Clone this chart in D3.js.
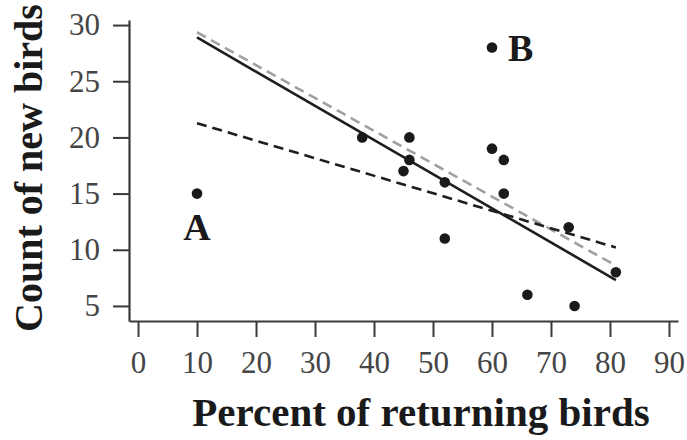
<!DOCTYPE html>
<html>
<head>
<meta charset="utf-8">
<script src="https://cdn.jsdelivr.net/npm/d3@7"></script>
<style>
  html, body { margin: 0; padding: 0; background: #fff; }
  svg { display: block; }
  text { font-family: "Liberation Serif", "Times New Roman", serif; }
</style>
</head>
<body>
<svg id="chart" width="687" height="440"></svg>
<script>
// Observations: percent of returning birds vs. count of new birds
const percentReturning = [38, 46, 46, 45, 52, 52, 60, 62, 62, 73, 66, 74, 81];
const newBirds         = [20, 20, 18, 17, 16, 11, 19, 18, 15, 12,  6,  5,  8];

// Two labelled outliers
const outlierNames   = ["A", "B"];
const outlierPercent = [10, 60];
const outlierCount   = [15, 28];

// Tick labels
const xTicks = [0, 10, 20, 30, 40, 50, 60, 70, 80, 90];
const yTicks = [5, 10, 15, 20, 25, 30];

const svg = d3.select("#chart");

const x = d3.scaleLinear().domain([-1.53, 91.53]).range([129, 678]);
const y = d3.scaleLinear().domain([3.66, 30.45]).range([321, 20]);

const axisColor = "#3a3a3a";
const labelColor = "#454545";

// Least-squares fit over a set of points
function fitLine(xs, ys) {
  const n = xs.length;
  const mx = d3.mean(xs), my = d3.mean(ys);
  let sxy = 0, sxx = 0;
  for (let i = 0; i < n; i++) {
    sxy += (xs[i] - mx) * (ys[i] - my);
    sxx += (xs[i] - mx) * (xs[i] - mx);
  }
  const b = sxy / sxx, a = my - b * mx;
  return v => a + b * v;
}

const allX = percentReturning.concat(outlierPercent);
const fitCore = fitLine(percentReturning, newBirds);
const fitWithA = fitLine(percentReturning.concat([outlierPercent[0]]), newBirds.concat([outlierCount[0]]));
const fitWithB = fitLine(percentReturning.concat([outlierPercent[1]]), newBirds.concat([outlierCount[1]]));
// each fit is drawn across the full range of observed x values
const span = d3.extent(allX);
const segment = f => span.map(v => [v, f(v)]);

const line = d3.line().x(d => x(d[0])).y(d => y(d[1]));

// Axes
const xAxis = d3.axisBottom(x).tickValues(xTicks).tickSize(16).tickSizeOuter(0).tickPadding(14);
const gx = svg.append("g").attr("transform", "translate(0,321)").call(xAxis);
const yAxis = d3.axisLeft(y).tickValues(yTicks).tickSize(16).tickSizeOuter(0).tickPadding(13);
const gy = svg.append("g").attr("transform", "translate(129,0)").call(yAxis);

[gx, gy].forEach(g => {
  g.select(".domain").attr("stroke", axisColor).attr("stroke-width", 2.2);
  g.selectAll(".tick line").attr("stroke", axisColor).attr("stroke-width", 2);
  g.selectAll(".tick text")
    .attr("fill", labelColor)
    .style("font-family", "'Liberation Serif', 'Times New Roman', serif")
    .style("font-size", "31px");
});

// Fit lines
svg.append("path").datum(segment(fitCore)).attr("d", line)
  .attr("fill", "none").attr("stroke", "#1e1e1e").attr("stroke-width", 2.6);
svg.append("path").datum(segment(fitWithB)).attr("d", line)
  .attr("fill", "none").attr("stroke", "#a0a0a0").attr("stroke-width", 2.6)
  .attr("stroke-dasharray", "10,6");
svg.append("path").datum(segment(fitWithA)).attr("d", line)
  .attr("fill", "none").attr("stroke", "#1e1e1e").attr("stroke-width", 2.6)
  .attr("stroke-dasharray", "10,6");

// Points
const pts = percentReturning.map((v, i) => [v, newBirds[i]])
  .concat(outlierPercent.map((v, i) => [v, outlierCount[i]]));
svg.append("g").selectAll("circle").data(pts).join("circle")
  .attr("cx", d => x(d[0])).attr("cy", d => y(d[1])).attr("r", 5.3)
  .attr("fill", "#1a1a1a");

// Outlier labels
svg.append("text").attr("x", x(outlierPercent[0])).attr("y", y(outlierCount[0]) + 46)
  .attr("text-anchor", "middle").attr("font-weight", "bold").attr("font-size", 38)
  .attr("fill", "#1a1a1a").text(outlierNames[0]);
svg.append("text").attr("x", x(outlierPercent[1]) + 16).attr("y", y(outlierCount[1]) + 13)
  .attr("text-anchor", "start").attr("font-weight", "bold").attr("font-size", 38)
  .attr("fill", "#1a1a1a").text(outlierNames[1]);

// Axis titles
svg.append("text").attr("x", 421).attr("y", 426)
  .attr("text-anchor", "middle").attr("font-weight", "bold").attr("font-size", 41)
  .attr("fill", "#1a1a1a").text("Percent of returning birds");
svg.append("text").attr("transform", "translate(42,168) rotate(-90)")
  .attr("text-anchor", "middle").attr("font-weight", "bold").attr("font-size", 40)
  .attr("fill", "#1a1a1a").text("Count of new birds");
</script>
</body>
</html>
